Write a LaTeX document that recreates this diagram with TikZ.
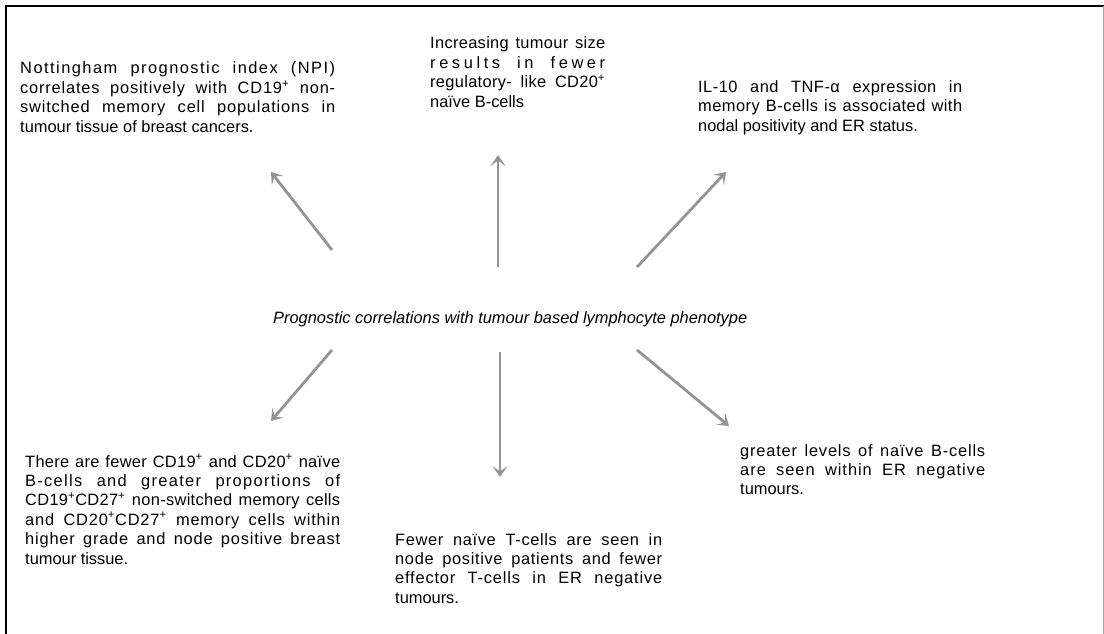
\documentclass[tikz,border=0pt]{standalone}
\usepackage{fontspec}
\setmainfont{Liberation Sans}
\usetikzlibrary{arrows.meta}

\newcommand{\plus}{\textsuperscript{+}}
% a fully justified line, slightly letter-spaced
\newcommand{\jline}[2][5]{\makebox[\linewidth][s]{\addfontfeature{LetterSpace=#1}#2}\\}

\begin{document}
\begin{tikzpicture}[x=1pt,y=-1pt,
  blurb/.style={anchor=base west, inner sep=0pt,
    font=\fontsize{16.4}{19.4}\selectfont},
  link/.style={draw=black!42, line width=2.8pt,
    -{Stealth[length=11pt,width=15pt,inset=5.5pt]}}]
\useasboundingbox (0,0) rectangle (1104,634);

% frame
\draw[line width=2.2pt] (6,634) -- (6,6) -- (1104,6);
\draw[black!35, line width=1pt] (1103.5,6) -- (1103.5,634);

% centre statement
\node[blurb, font=\fontsize{16.4}{19.4}\selectfont\itshape] (centre) at (273,323)
  {Prognostic correlations with tumour based lymphocyte phenotype};

% surrounding findings
\node[blurb] (npi) at (20,74) {\parbox[t]{315pt}{%
  \jline[9]{Nottingham prognostic index (NPI)}
  \jline{correlates positively with CD19\plus{} non-}
  \jline{switched memory cell populations in}
  tumour tissue of breast cancers.}};

\node[blurb] (size) at (430,49) {\parbox[t]{175pt}{%
  \jline[2]{Increasing tumour size}
  \jline[22]{results in fewer}
  \jline[2]{regulatory- like CD20\plus}
  naïve B-cells}};

\node[blurb] (il10) at (698,92.5) {\parbox[t]{264pt}{%
  \jline[3]{IL-10 and TNF-α expression in}
  \jline[3]{memory B-cells is associated with}
  nodal positivity and ER status.}};

\node[blurb] (grade) at (25,467) {\parbox[t]{315pt}{%
  \jline[2]{There are fewer CD19\plus{} and CD20\plus{} naïve}
  \jline[8]{B-cells and greater proportions of}
  \jline[2]{CD19\plus CD27\plus{} non-switched memory cells}
  \jline[5]{and CD20\plus CD27\plus{} memory cells within}
  \jline[5]{higher grade and node positive breast}
  tumour tissue.}};

\node[blurb] (tcell) at (395,545) {\parbox[t]{267pt}{%
  \jline[4]{Fewer naïve T-cells are seen in}
  \jline[4]{node positive patients and fewer}
  \jline[5]{effector T-cells in ER negative}
  tumours.}};

\node[blurb] (erneg) at (740,456) {\parbox[t]{245pt}{%
  \jline[5]{greater levels of naïve B-cells}
  \jline[6]{are seen within ER negative}
  tumours.}};

% arrow ends
\coordinate (ulT) at (332,250); \coordinate (ulH) at (271,172);
\coordinate (umT) at (498,267); \coordinate (umH) at (498,155);
\coordinate (urT) at (637,267); \coordinate (urH) at (726,172);
\coordinate (dlT) at (332,350); \coordinate (dlH) at (271,421);
\coordinate (dmT) at (500,352); \coordinate (dmH) at (500,477);
\coordinate (drT) at (637,350); \coordinate (drH) at (729,426);

\draw[link] (ulT) -- (ulH);
\draw[link] (umT) -- (umH);
\draw[link] (urT) -- (urH);
\draw[link] (dlT) -- (dlH);
\draw[link] (dmT) -- (dmH);
\draw[link] (drT) -- (drH);
\end{tikzpicture}
\end{document}
